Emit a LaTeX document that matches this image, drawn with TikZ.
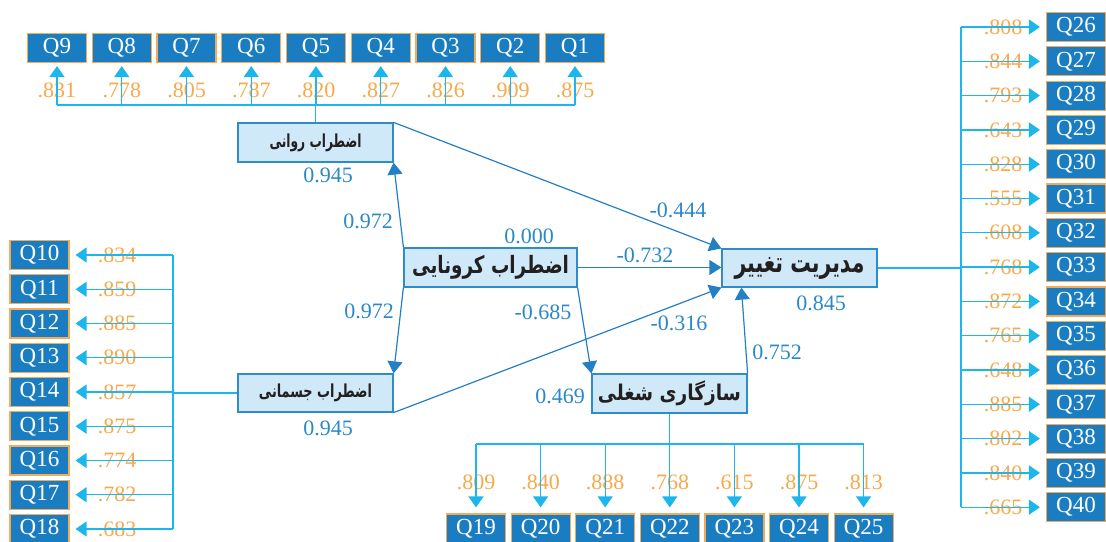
\documentclass[tikz,border=0pt]{standalone}
\usepackage{fontspec}
\usepackage{graphicx}
\usetikzlibrary{arrows.meta}
\setmainfont{Liberation Serif}
\newfontfamily\arabicfont[Script=Arabic]{DejaVu Sans}
\TeXXeTstate=1
\definecolor{qfill}{HTML}{1B7DC1}
\definecolor{qborder}{HTML}{F5AB55}
\definecolor{mblue}{HTML}{1CB5EC}
\definecolor{sblue}{HTML}{2480C4}
\definecolor{latfill}{HTML}{CFE9F8}
\definecolor{latborder}{HTML}{2F8CCB}
\definecolor{loadc}{HTML}{F7A84A}
\definecolor{coefc}{HTML}{2A88C8}
\definecolor{fatext}{HTML}{231F20}
\newcommand\qfnt{\fontsize{23}{25}\selectfont}
\newcommand\nfnt{\fontsize{22}{24}\selectfont}
\newcommand\fatxt[3]{\resizebox*{#1}{#2}{\arabicfont\bfseries #3}}
\tikzset{
  qbox/.style={draw=qborder, fill=qfill, line width=1.2pt, minimum width=59pt, minimum height=29pt, inner sep=0pt, text=white, font=\qfnt},
  latent/.style={draw=latborder, fill=latfill, line width=1.2pt, inner sep=0pt, text=fatext},
  load/.style={text=loadc, font=\nfnt, inner sep=0pt},
  coef/.style={text=coefc, font=\nfnt, inner sep=0pt},
  mline/.style={draw=mblue, line width=1.3pt},
  marrow/.style={mline, -{Triangle[width=15pt,length=11pt]}},
  sarrow/.style={draw=sblue, line width=1.2pt, -{Triangle[width=15pt,length=12pt]}}
}
\begin{document}
\begin{tikzpicture}[x=1pt,y=-1pt]
\useasboundingbox (0,0) rectangle (1106,541);
% latent variables
\node[latent, minimum width=155pt, minimum height=39pt] (ravani) at (315.5,142.5) {\fatxt{92pt}{18pt}{\beginR اضطراب روانی\endR}};
\node[latent, minimum width=173pt, minimum height=39pt] (corona) at (490.5,267.5) {\fatxt{157pt}{24pt}{\beginR اضطراب کرونایی\endR}};
\node[latent, minimum width=155pt, minimum height=38pt] (jesmani) at (315.5,393) {\fatxt{113pt}{18pt}{\beginR اضطراب جسمانی\endR}};
\node[latent, minimum width=155pt, minimum height=38pt] (modir) at (799.5,268) {\fatxt{130pt}{22pt}{\beginR مدیریت تغییر\endR}};
\node[latent, minimum width=155pt, minimum height=39pt] (sazgari) at (669.5,393.5) {\fatxt{143pt}{25pt}{\beginR سازگاری شغلی\endR}};
% top indicators
\foreach \i/\v in {1/.875,2/.909,3/.826,4/.827,5/.820,6/.787,7/.805,8/.778,9/.831}{
  \pgfmathsetmacro\xx{57+64.75*(9-\i)}
  \node[qbox] (q\i) at (\xx,48) {Q\i};
  \node[load] (l\i) at (\xx,90) {\v};
  \coordinate (t\i) at (\xx,105);
  \draw[marrow, shorten >=3pt] (t\i) -- (q\i.south);
}
\draw[mline] (t9) -- (t1);
\draw[mline] (ravani.north) -- (ravani.north |- t5);
% left indicators
\foreach \i/\v in {10/.834,11/.859,12/.885,13/.890,14/.857,15/.875,16/.774,17/.782,18/.683}{
  \pgfmathsetmacro\yy{255+34.25*(\i-10)}
  \node[qbox] (q\i) at (39.5,\yy) {Q\i};
  \node[load] (l\i) at (117,\yy) {\v};
  \coordinate (b\i) at (173,\yy);
  \draw[marrow, shorten >=6pt] (b\i) -- (q\i.east);
}
\draw[mline] (b10) -- (b18);
\draw[mline] (jesmani.west) -- (jesmani.west -| b14);
% right indicators
\foreach \i/\v in {26/.808,27/.844,28/.793,29/.643,30/.828,31/.555,32/.608,33/.768,34/.872,35/.765,36/.648,37/.885,38/.802,39/.840,40/.665}{
  \pgfmathsetmacro\yy{27+34.3*(\i-26)}
  \node[qbox] (q\i) at (1076,\yy) {Q\i};
  \node[load] (l\i) at (1003,\yy) {\v};
  \coordinate (r\i) at (961,\yy);
  \draw[marrow, shorten >=6pt] (r\i) -- (q\i.west);
}
\draw[mline] (r26) -- (r40);
\draw[mline] (modir.east) -- (modir.east -| r33);
% bottom indicators
\foreach \i/\v in {19/.809,20/.840,21/.888,22/.768,23/.615,24/.875,25/.813}{
  \pgfmathsetmacro\xx{476+64.6*(\i-19)}
  \node[qbox] (q\i) at (\xx,528.5) {Q\i};
  \node[load] (l\i) at (\xx,482) {\v};
  \coordinate (d\i) at (\xx,444);
  \draw[marrow, shorten >=6pt] (d\i) -- (q\i.north);
}
\draw[mline] (d19) -- (d25);
\draw[mline] (sazgari.south) -- (sazgari.south |- d22);
% structural paths
\draw[sarrow] (corona.north west) -- (ravani.south east);
\draw[sarrow] (corona.south west) -- (jesmani.north east);
\draw[sarrow] (ravani.north east) -- (modir.north west);
\draw[sarrow] (corona.east) -- (corona.east -| modir.west);
\draw[sarrow] (jesmani.south east) -- (modir.south west);
\draw[sarrow] (corona.south east) -- (sazgari.north west);
\draw[sarrow] (sazgari.north east) -- ([xshift=20pt]modir.south west);
% coefficients
\node[coef] (c1) at (328,175) {0.945};
\node[coef] (c2) at (368,221) {0.972};
\node[coef] (c3) at (369,311) {0.972};
\node[coef] (c4) at (328,428) {0.945};
\node[coef] (c5) at (529,236) {0.000};
\node[coef] (c6) at (678,210) {-0.444};
\node[coef] (c7) at (645,255) {-0.732};
\node[coef] (c8) at (543,312) {-0.685};
\node[coef] (c9) at (679,323) {-0.316};
\node[coef] (c10) at (777,352) {0.752};
\node[coef] (c11) at (821,303) {0.845};
\node[coef] (c12) at (560,396) {0.469};
\end{tikzpicture}
\end{document}
